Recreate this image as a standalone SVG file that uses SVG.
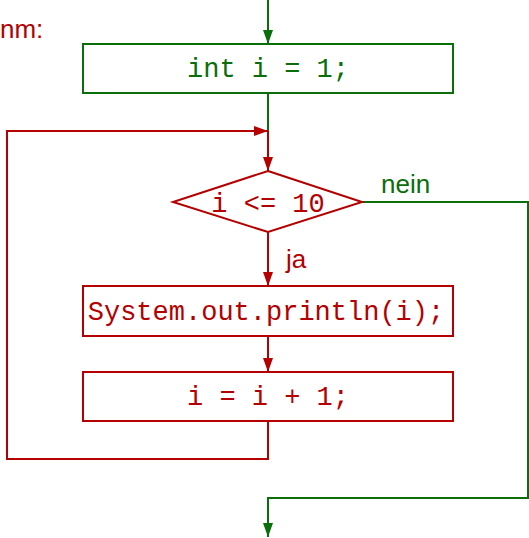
<svg xmlns="http://www.w3.org/2000/svg" width="529" height="538" viewBox="0 0 529 538">
<style>
.r{stroke:#b40000;fill:none;stroke-width:2}
.g{stroke:#0a6e0a;fill:none;stroke-width:2}
.tr{fill:#b40000}
.tg{fill:#0a6e0a}
.mono{font-family:"Liberation Mono","DejaVu Sans Mono",monospace;font-size:27px}
.sans{font-family:"Liberation Sans","DejaVu Sans",sans-serif;font-size:26px}
</style>
<defs>
<marker id="ar" viewBox="0 0 14 10" refX="14" refY="5" markerWidth="14" markerHeight="10" markerUnits="userSpaceOnUse" orient="auto"><path d="M0,0 L14,5 L0,10 Z" fill="#b40000"/></marker>
<marker id="ag" viewBox="0 0 14 10" refX="14" refY="5" markerWidth="14" markerHeight="10" markerUnits="userSpaceOnUse" orient="auto"><path d="M0,0 L14,5 L0,10 Z" fill="#0a6e0a"/></marker>
</defs>
<text class="sans tr" x="0" y="38">nm:</text>
<g id="connectors">
<path class="g" d="M268,0 L268,44" marker-end="url(#ag)"/>
<path class="g" d="M268,93 L268,131"/>
<path class="r" d="M268,131 L268,171" marker-end="url(#ar)"/>
<path class="r" d="M268,421 L268,459 L7,459 L7,131 L268,131" marker-end="url(#ar)"/>
<path class="r" d="M268,232 L268,286" marker-end="url(#ar)"/>
<path class="r" d="M268,336 L268,372" marker-end="url(#ar)"/>
<path class="g" d="M362,202 L528,202 L528,498 L268,498 L268,537" marker-end="url(#ag)"/>
<text class="sans tg" x="381" y="193">nein</text>
<text class="sans tr" x="286" y="268">ja</text>
</g>
<g id="init">
<rect class="g" x="83" y="44" width="370" height="49"/>
<text class="mono tg" x="268" y="77" text-anchor="middle">int i = 1;</text>
</g>
<g id="cond">
<polygon class="r" points="268,171 362,202 268,232 173,202"/>
<text class="mono tr" x="268" y="212" text-anchor="middle">i &lt;= 10</text>
</g>
<g id="print">
<rect class="r" x="83" y="286" width="370" height="50"/>
<text class="mono tr" x="266" y="320" text-anchor="middle">System.out.println(i);</text>
</g>
<g id="incr">
<rect class="r" x="83" y="372" width="370" height="49"/>
<text class="mono tr" x="268" y="405" text-anchor="middle">i = i + 1;</text>
</g>
</svg>
